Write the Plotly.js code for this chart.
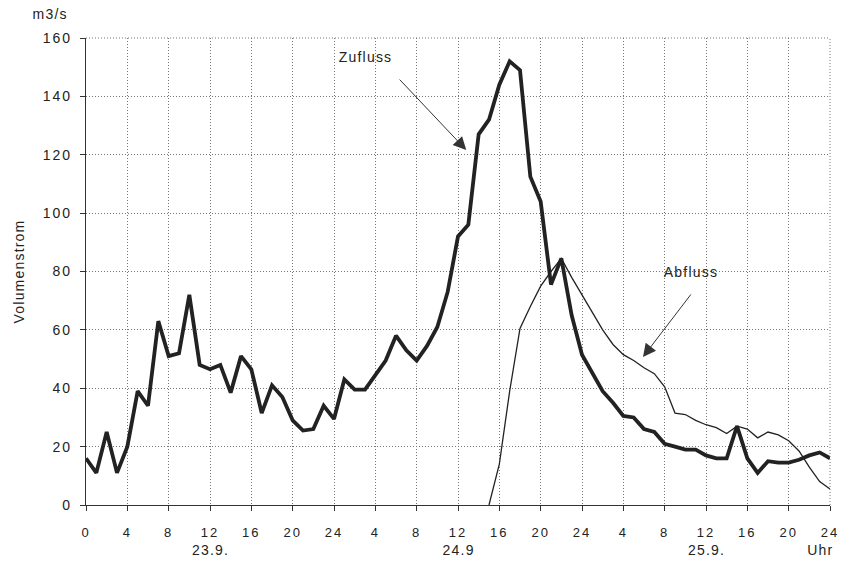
<!DOCTYPE html>
<html>
<head>
<meta charset="utf-8">
<script src="https://cdn.plot.ly/plotly-3.0.1.min.js"></script>
<style>
html,body{margin:0;padding:0;background:#fff;}
#chart{width:844px;height:562px;}
#chart .xtick text, #chart .ytick text {letter-spacing: 2px;}
#chart .annotation-text, #chart .ytitle {letter-spacing: 1.2px;}
</style>
</head>
<body>
<div id="chart"></div>
<script>
// Hours since 23.9. 0 Uhr
var zuflussHours = [];
for (var h = 0; h <= 72; h++) zuflussHours.push(h);
var zuflussValues = [16, 11, 25, 11, 20, 39, 34, 63, 51, 52, 72, 48, 46.5, 48, 38.5, 51, 46.5, 31.5, 41, 37, 29, 25.5, 26, 34, 29.5, 43, 39.5, 39.5, 44.5, 49.5, 58, 53, 49.5, 54.5, 61, 73, 92, 96, 127, 132, 144, 152, 149, 112.5, 104, 75.5, 84.5, 65, 51.5, 45.5, 39, 35, 30.5, 30, 26, 25, 21, 20, 19, 19, 17, 16, 16, 27, 16, 11, 15, 14.5, 14.5, 15.5, 17, 18, 16];
var abflussHours = [39, 40, 41, 42, 43, 44, 45, 46, 47, 48, 49, 50, 51, 52, 53, 54, 55, 56, 57, 58, 59, 60, 61, 62, 63, 64, 65, 66, 67, 68, 69, 70, 71, 72];
var abflussValues = [0, 14, 39, 60.5, 68, 75, 80, 84.5, 78, 72, 65.5, 60, 55, 51.5, 49.5, 47, 45, 40.5, 31.5, 31, 29, 27.5, 26.5, 24.5, 27, 26, 23, 25, 24, 22, 18.5, 13, 8, 5.5];
var tickVals = [0, 4, 8, 12, 16, 20, 24, 28, 32, 36, 40, 44, 48, 52, 56, 60, 64, 68, 72];
var tickText = ['0', '4', '8', '12', '16', '20', '24', '4', '8', '12', '16', '20', '24', '4', '8', '12', '16', '20', '24'];
var dayLabels = ['23.9.', '24.9', '25.9.'];
var dayLabelHours = [12, 36, 60];

var font = 'Liberation Sans, Arial, sans-serif';
var ink = '#222';
var gridDash = '1px,2px';
var gridColor = '#777';

var traces = [
  {x: abflussHours, y: abflussValues, type: 'scatter', mode: 'lines', name: 'Abfluss',
   line: {color: ink, width: 1.3}},
  {x: zuflussHours, y: zuflussValues, type: 'scatter', mode: 'lines', name: 'Zufluss',
   line: {color: ink, width: 3.8}}
];

var annotations = [
  {x: 36.8, y: 121.6, xref: 'x', yref: 'y', ax: -68, ay: -72, text: '', showarrow: true,
   arrowhead: 2, arrowsize: 2.6, arrowwidth: 1, arrowcolor: '#333'},
  {x: 53.9, y: 50.7, xref: 'x', yref: 'y', ax: 49, ay: -64, text: '', showarrow: true,
   arrowhead: 2, arrowsize: 2.6, arrowwidth: 1, arrowcolor: '#333'},
  {x: 27, y: 153.5, xref: 'x', yref: 'y', text: 'Zufluss', showarrow: false,
   font: {family: font, size: 14, color: ink}},
  {x: 58.5, y: 79.8, xref: 'x', yref: 'y', text: 'Abfluss', showarrow: false,
   font: {family: font, size: 14, color: ink}},
  {x: 0, y: 1, xref: 'paper', yref: 'paper', text: 'm3/s', showarrow: false,
   xanchor: 'center', yanchor: 'middle', xshift: -36, yshift: 24,
   font: {family: font, size: 14, color: ink}},
  {x: 1, y: 0, xref: 'paper', yref: 'paper', text: 'Uhr', showarrow: false,
   xanchor: 'right', yanchor: 'middle', yshift: -45, xshift: 4,
   font: {family: font, size: 14, color: ink}}
];
for (var i = 0; i < dayLabels.length; i++) {
  annotations.push({x: dayLabelHours[i], y: 0, xref: 'x', yref: 'paper', text: dayLabels[i],
    showarrow: false, xanchor: 'center', yanchor: 'middle', yshift: -45,
    font: {family: font, size: 14, color: ink}});
}

var shapes = [
  {type: 'line', xref: 'paper', yref: 'paper', x0: 0, x1: 1, y0: 1, y1: 1,
   line: {color: gridColor, width: 1, dash: gridDash}},
  {type: 'line', xref: 'paper', yref: 'paper', x0: 1, x1: 1, y0: 0, y1: 1,
   line: {color: gridColor, width: 1, dash: gridDash}}
];

var layout = {
  width: 844, height: 562,
  margin: {l: 86, r: 14, t: 38, b: 57},
  paper_bgcolor: '#fff', plot_bgcolor: '#fff',
  showlegend: false,
  font: {family: font, size: 13, color: ink},
  xaxis: {
    range: [0, 72], tickmode: 'array', tickvals: tickVals, ticktext: tickText,
    showgrid: true, gridcolor: gridColor, griddash: gridDash, gridwidth: 1,
    showline: true, linecolor: '#333', linewidth: 1.2,
    ticks: 'outside', ticklen: 5, tickcolor: '#333', ticklabelstandoff: 10,
    tickfont: {family: font, size: 13, color: ink}, zeroline: false, fixedrange: true
  },
  yaxis: {
    range: [0, 160], dtick: 20, tick0: 0,
    showgrid: true, gridcolor: gridColor, griddash: gridDash, gridwidth: 1,
    showline: true, linecolor: '#333', linewidth: 1.2,
    ticks: 'outside', ticklen: 5, tickcolor: '#333', ticklabelstandoff: 5,
    tickfont: {family: font, size: 14, color: ink}, zeroline: false, fixedrange: true,
    title: {text: 'Volumenstrom', font: {family: font, size: 14, color: ink}, standoff: 20}
  },
  shapes: shapes,
  annotations: annotations
};

Plotly.newPlot('chart', traces, layout, {displayModeBar: false, staticPlot: true});
</script>
</body>
</html>
